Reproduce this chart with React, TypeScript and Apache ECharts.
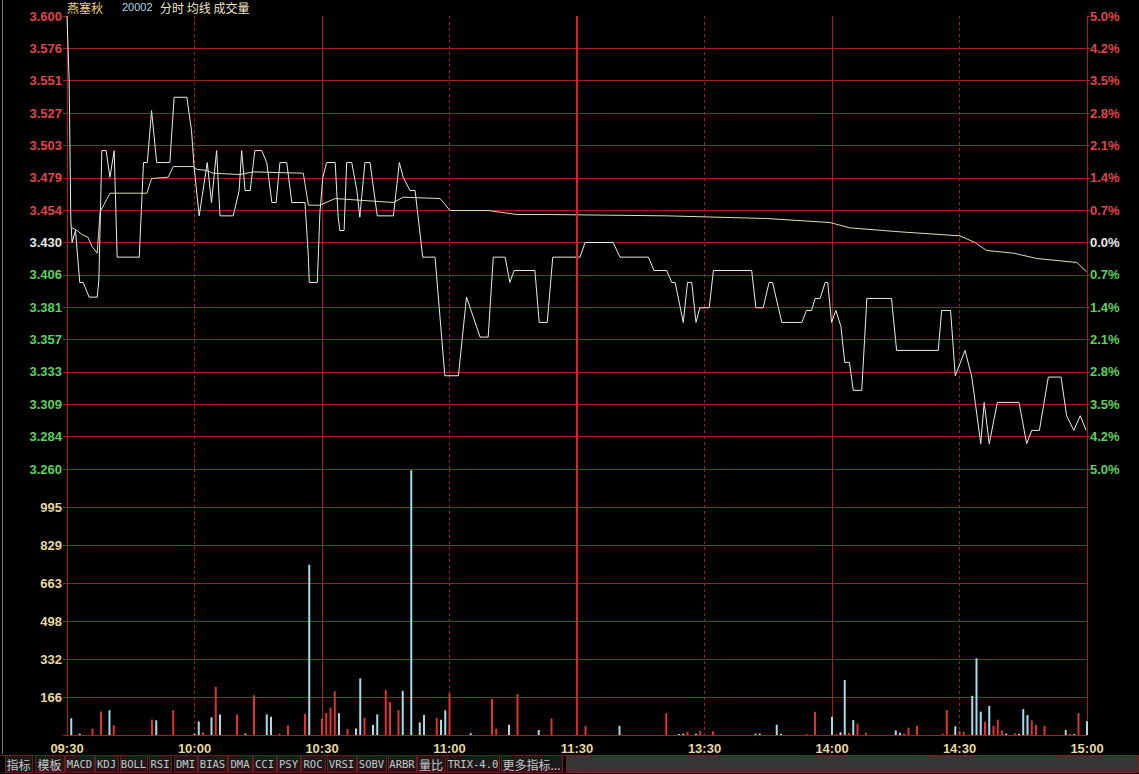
import React, { useEffect, useRef } from 'react';
import * as echarts from 'echarts';

// ---------- text ----------
const stockName = '燕塞秋';
const stockCode = '20002';
const headerLabel = '分时 均线 成交量';

// tick labels (bottom to top)
const priceTicks = ['3.260', '3.284', '3.309', '3.333', '3.357', '3.381', '3.406', '3.430', '3.454', '3.479', '3.503', '3.527', '3.551', '3.576', '3.600'];
const pctTicks = ['5.0%', '4.2%', '3.5%', '2.8%', '2.1%', '1.4%', '0.7%', '0.0%', '0.7%', '1.4%', '2.1%', '2.8%', '3.5%', '4.2%', '5.0%'];
const volTicks = ['', '166', '332', '498', '663', '829', '995', ''];
const timeLabels = ['09:30', '10:00', '10:30', '11:00', '11:30', '13:30', '14:00', '14:30', '15:00'];
const tabLabels = ['指标', '模板', 'MACD', 'KDJ', 'BOLL', 'RSI', 'DMI', 'BIAS', 'DMA', 'CCI', 'PSY', 'ROC', 'VRSI', 'SOBV', 'ARBR', '量比', 'TRIX-4.0', '更多指标...'];

const priceMin = 3.26;
const priceMax = 3.6;
const volMax = 1161;

// ---------- price line (minute from 09:30, price) ----------
const priceMinutes = [0, 0.5, 0.9, 1.2, 2, 3, 3.8, 5.2, 7.1, 7.5, 8.2, 9.2, 10.1, 11.1, 11.8, 17, 18, 18.9, 19.9, 21.1, 24.2, 25.2, 28.2, 29.3, 29.9, 31.1, 33, 34, 35.2, 36, 39.1, 40.5, 41.1, 41.9, 43.1, 44.2, 45.8, 47, 48.2, 49.2, 50.1, 51.7, 52.9, 56, 56.8, 57, 58.9, 59.5, 60.2, 61.1, 63.1, 63.8, 64.2, 65.2, 65.8, 67, 68.2, 68.9, 70.1, 71.3, 73, 76.8, 78.2, 79.1, 80.7, 81.9, 83.7, 86.6, 88.9, 92.1, 94, 97.2, 99.1, 100.3, 103.1, 104.2, 105.2, 110.1, 111.1, 113, 114.3, 120.7, 121.9, 128.5, 130.1, 136.8, 138.1, 141.1, 142.3, 143.1, 145, 146, 147, 148, 148.9, 151.1, 152.1, 161.1, 162.1, 163.8, 165.2, 166, 168.2, 172.9, 174, 175.2, 176, 177.2, 178.4, 179, 179.9, 180.9, 182.1, 183, 184.1, 185, 187, 188.2, 194, 195.2, 205, 205.8, 207.9, 209, 211.3, 212.9, 215, 215.8, 217, 218.9, 224, 225.8, 227, 228.8, 230.9, 233.9, 235.2, 236.9, 238.4, 239.8];
const priceValues = [3.600, 3.552, 3.447, 3.430, 3.439, 3.400, 3.400, 3.389, 3.389, 3.402, 3.499, 3.499, 3.479, 3.499, 3.419, 3.419, 3.490, 3.490, 3.529, 3.490, 3.490, 3.539, 3.539, 3.514, 3.487, 3.450, 3.490, 3.460, 3.499, 3.450, 3.450, 3.469, 3.499, 3.469, 3.469, 3.499, 3.499, 3.490, 3.460, 3.460, 3.490, 3.490, 3.460, 3.460, 3.419, 3.400, 3.400, 3.452, 3.479, 3.490, 3.490, 3.449, 3.439, 3.439, 3.490, 3.490, 3.469, 3.449, 3.490, 3.490, 3.450, 3.450, 3.490, 3.479, 3.469, 3.469, 3.419, 3.419, 3.330, 3.330, 3.389, 3.359, 3.359, 3.419, 3.419, 3.400, 3.409, 3.409, 3.370, 3.370, 3.419, 3.419, 3.430, 3.430, 3.419, 3.419, 3.409, 3.409, 3.400, 3.400, 3.370, 3.400, 3.400, 3.370, 3.381, 3.381, 3.409, 3.409, 3.381, 3.381, 3.400, 3.400, 3.370, 3.370, 3.379, 3.379, 3.388, 3.388, 3.400, 3.400, 3.370, 3.379, 3.367, 3.340, 3.340, 3.319, 3.319, 3.388, 3.388, 3.349, 3.349, 3.379, 3.379, 3.330, 3.349, 3.329, 3.279, 3.310, 3.279, 3.310, 3.310, 3.279, 3.289, 3.289, 3.329, 3.329, 3.300, 3.289, 3.300, 3.289];

// ---------- average line ----------
const avgMinutes = [1.2, 2.4, 3.5, 4.9, 5.9, 7.1, 7.8, 9.3, 10.1, 18.8, 19.9, 23.8, 25, 29.7, 30.5, 32.9, 34.4, 40.7, 43.8, 55.6, 56.8, 59.5, 63.1, 76.8, 79.1, 87.8, 90.1, 99.1, 105.8, 113.6, 141.1, 164.6, 179.5, 184.2, 196, 210.1, 213.6, 216.4, 222.7, 228.2, 237.6, 239.9];
const avgValues = [3.441, 3.439, 3.436, 3.434, 3.427, 3.422, 3.453, 3.462, 3.467, 3.467, 3.478, 3.479, 3.487, 3.487, 3.485, 3.484, 3.482, 3.481, 3.483, 3.482, 3.458, 3.458, 3.463, 3.460, 3.464, 3.463, 3.454, 3.454, 3.451, 3.451, 3.450, 3.448, 3.445, 3.441, 3.438, 3.435, 3.430, 3.424, 3.422, 3.418, 3.415, 3.408];

// ---------- volume ----------
const volMinutes = [1, 3, 6, 8, 10, 11, 20, 21, 25, 30, 31, 32, 34, 35, 36, 40, 42, 44, 47, 48, 50, 52, 56, 57, 60, 61, 62, 63, 64, 66, 68, 69, 70, 72, 73, 75, 76, 78, 79, 81, 83, 84, 87, 88, 89, 90, 95, 100, 101, 104, 106, 111, 114, 122, 130, 141, 144, 145, 146, 148, 149, 152, 162, 163, 167, 168, 174, 176, 180, 181, 182, 183, 184, 185, 186, 188, 195, 196, 197, 198, 200, 206, 207, 209, 210, 211, 213, 214, 215, 216, 217, 218, 219, 220, 221, 223, 224, 225, 226, 227, 228, 230, 235, 236, 237, 238, 240];
const volValues = [73, 6, 28, 103, 108, 42, 68, 64, 108, 5, 59, 12, 77, 210, 90, 90, 6, 173, 90, 80, 6, 42, 92, 743, 72, 96, 120, 191, 95, 26, 28, 247, 75, 44, 90, 197, 143, 109, 193, 1155, 55, 87, 75, 67, 108, 182, 8, 157, 28, 45, 179, 22, 72, 40, 40, 95, 4, 6, 14, 6, 18, 16, 6, 6, 45, 6, 4, 102, 80, 5, 12, 240, 10, 65, 50, 10, 20, 10, 6, 32, 40, 6, 109, 38, 18, 14, 171, 335, 102, 58, 127, 40, 67, 20, 6, 8, 5, 113, 87, 64, 44, 40, 22, 4, 4, 95, 60];
// 1 = price up (red), 0 = price down (cyan)
const volUp = [0, 0, 1, 1, 0, 1, 1, 0, 1, 0, 0, 1, 0, 1, 0, 1, 0, 1, 0, 0, 1, 1, 1, 0, 1, 1, 1, 1, 0, 1, 0, 0, 1, 0, 0, 1, 1, 1, 0, 0, 0, 0, 1, 0, 0, 1, 0, 1, 1, 0, 1, 0, 1, 1, 0, 1, 0, 0, 1, 0, 1, 1, 0, 0, 0, 0, 1, 1, 0, 1, 0, 0, 1, 0, 1, 1, 0, 0, 1, 1, 1, 1, 1, 0, 1, 1, 0, 0, 0, 1, 0, 1, 1, 1, 0, 1, 0, 0, 0, 1, 1, 1, 0, 1, 0, 1, 0];

// ---------- styles / layout ----------
const RED_GRID = '#a81c1c';
const RED_TXT = '#e04646';
const GREEN_TXT = '#5cd25c';
const WHITE_TXT = '#e8e8e8';
const YELLOW_TXT = '#e8d898';
const BAR_RED = '#e03232';
const BAR_CYAN = '#a6dcea';
const tabPos = [[5, 32], [35, 64], [65, 94], [95, 118], [120, 147], [149, 171], [174, 197], [198, 227], [228, 252], [253, 276], [277, 300], [301, 325], [327, 356], [357, 386], [388, 416], [417, 445], [447, 499], [501, 562]];

const isCjk = (s: string) => /[\u4e00-\u9fff]/.test(s);

export default function App() {
  const ref = useRef<HTMLDivElement>(null);

  useEffect(() => {
    if (!ref.current) return;
    const chart = echarts.init(ref.current, undefined, { renderer: 'svg' });

    const tickColor = (i: number) => (i < 7 ? GREEN_TXT : i === 7 ? WHITE_TXT : RED_TXT);
    const labelFont = { fontFamily: 'Liberation Sans, Arial, sans-serif', fontWeight: 'bold' as const, fontSize: 13 };

    const tabGraphics: any[] = [
      {
        type: 'rect',
        shape: { x: 566.5, y: 755.5, width: 572, height: 17 },
        style: { fill: '#363636', stroke: '#7a2020', lineWidth: 1 },
        silent: true,
      },
      {
        type: 'line',
        shape: { x1: 0, y1: 755.5, x2: 1139, y2: 755.5 },
        style: { stroke: '#7a2020', lineWidth: 1 },
        silent: true,
      },
    ];
    tabLabels.forEach((t, i) => {
      const [x0, x1] = tabPos[i];
      tabGraphics.push({
        type: 'rect',
        shape: { x: x0 + 0.5, y: 755.5, width: x1 - x0, height: 17 },
        style: { fill: '#1e1a1a', stroke: '#6e1a1a', lineWidth: 1 },
        silent: true,
      });
      tabGraphics.push({
        type: 'text',
        x: (x0 + x1) / 2,
        y: 764,
        style: {
          text: t,
          fill: '#c8c8c8',
          align: 'center',
          verticalAlign: 'middle',
          font: isCjk(t) ? '12px "Noto Sans CJK SC"' : '10.5px "DejaVu Sans Mono", monospace',
        },
        silent: true,
      });
    });

    const option: any = {
      animation: false,
      backgroundColor: '#000000',
      grid: [
        { left: 67, top: 16, width: 1020, height: 453 },
        { left: 67, top: 469, width: 1020, height: 266 },
      ],
      xAxis: [
        {
          gridIndex: 0, type: 'value', min: 0, max: 240, interval: 60,
          axisLine: { show: false }, axisTick: { show: false }, axisLabel: { show: false },
          splitLine: { show: true, lineStyle: { color: RED_GRID, width: 1, type: 'solid' } },
        },
        {
          gridIndex: 0, type: 'value', min: 0, max: 240, interval: 30,
          axisLine: { show: false }, axisTick: { show: false }, axisLabel: { show: false },
          splitLine: { show: true, lineStyle: { color: RED_GRID, width: 1, type: [3, 3] } },
        },
        {
          gridIndex: 1, type: 'value', min: 0, max: 240, interval: 60,
          axisLine: { show: false }, axisTick: { show: false }, axisLabel: { show: false },
          splitLine: { show: true, lineStyle: { color: RED_GRID, width: 1, type: 'solid' } },
        },
        {
          gridIndex: 1, type: 'value', min: 0, max: 240, interval: 30, position: 'bottom',
          axisLine: { show: true, lineStyle: { color: RED_GRID, width: 1 } },
          axisTick: { show: false },
          axisLabel: {
            show: true, margin: 7, color: YELLOW_TXT, ...labelFont,
            showMinLabel: true, showMaxLabel: true,
            formatter: (v: number) => timeLabels[Math.round(v / 30)] ?? '',
          },
          splitLine: { show: true, lineStyle: { color: RED_GRID, width: 1, type: [3, 3] } },
        },
      ],
      yAxis: [
        { gridIndex: 0, type: 'value', min: priceMin, max: priceMax, show: false },
        {
          gridIndex: 0, type: 'value', min: 0, max: 14, interval: 1, position: 'left',
          axisLine: { show: true, lineStyle: { color: RED_GRID } },
          axisTick: { show: true, length: 4, lineStyle: { color: RED_GRID } },
          axisLabel: {
            show: true, margin: 5, ...labelFont, showMinLabel: true, showMaxLabel: true,
            formatter: (v: number) => priceTicks[Math.round(v)] ?? '',
            color: (v: any) => tickColor(Math.round(Number(v))),
          },
          splitLine: { show: true, showMaxLine: false, lineStyle: { color: RED_GRID, width: 1 } },
        },
        {
          gridIndex: 0, type: 'value', min: 0, max: 14, interval: 1, position: 'right',
          axisLine: { show: true, lineStyle: { color: RED_GRID } },
          axisTick: { show: true, length: 3, lineStyle: { color: RED_GRID } },
          axisLabel: {
            show: true, margin: 3, ...labelFont, showMinLabel: true, showMaxLabel: true,
            formatter: (v: number) => pctTicks[Math.round(v)] ?? '',
            color: (v: any) => tickColor(Math.round(Number(v))),
          },
          splitLine: { show: false },
        },
        { gridIndex: 1, type: 'value', min: 0, max: volMax, show: false },
        {
          gridIndex: 1, type: 'value', min: 0, max: 7, interval: 1, position: 'left',
          axisLine: { show: true, lineStyle: { color: RED_GRID } },
          axisTick: { show: true, length: 4, lineStyle: { color: RED_GRID } },
          axisLabel: {
            show: true, margin: 5, ...labelFont, color: YELLOW_TXT,
            formatter: (v: number) => volTicks[Math.round(v)] ?? '',
          },
          splitLine: { show: true, lineStyle: { color: RED_GRID, width: 1 } },
        },
        {
          gridIndex: 1, type: 'value', min: 0, max: 7, interval: 1, position: 'right',
          axisLine: { show: true, lineStyle: { color: RED_GRID } },
          axisTick: { show: false }, axisLabel: { show: false }, splitLine: { show: false },
        },
      ],
      series: [
        {
          type: 'line', xAxisIndex: 0, yAxisIndex: 0, symbol: 'none',
          data: avgMinutes.map((m, i) => [m, avgValues[i]]),
          lineStyle: { color: '#e6dcae', width: 1 },
          z: 3,
        },
        {
          type: 'line', xAxisIndex: 0, yAxisIndex: 0, symbol: 'none',
          data: priceMinutes.map((m, i) => [m, priceValues[i]]),
          lineStyle: { color: '#ececec', width: 1 },
          z: 4,
          markLine: {
            silent: true, symbol: 'none', label: { show: false },
            lineStyle: { color: '#d82424', width: 2, type: 'solid' },
            data: [{ xAxis: 120 }],
          },
        },
        {
          type: 'bar', xAxisIndex: 2, yAxisIndex: 3, barWidth: 2,
          data: volMinutes.map((m, i) => ({
            value: [m, volValues[i]],
            itemStyle: { color: volUp[i] ? BAR_RED : BAR_CYAN },
          })),
          z: 3,
          markLine: {
            silent: true, symbol: 'none', label: { show: false },
            lineStyle: { color: '#d82424', width: 2, type: 'solid' },
            data: [{ xAxis: 120 }],
          },
        },
      ],
      graphic: [
        {
          type: 'line', shape: { x1: 2.5, y1: 0, x2: 2.5, y2: 754 },
          style: { stroke: '#7a7a7a', lineWidth: 1 }, silent: true,
        },
        {
          type: 'text', x: 67, y: 7,
          style: { text: stockName, fill: '#e8d070', font: '12px "Noto Sans CJK SC"', verticalAlign: 'middle' },
          silent: true,
        },
        {
          type: 'text', x: 122, y: 7,
          style: { text: stockCode, fill: '#a8dcea', font: '11px "Liberation Sans", Arial', verticalAlign: 'middle' },
          silent: true,
        },
        {
          type: 'text', x: 160, y: 7,
          style: { text: headerLabel, fill: '#f0e8c8', font: '12px "Noto Sans CJK SC"', verticalAlign: 'middle' },
          silent: true,
        },
        ...tabGraphics,
      ],
    };

    chart.setOption(option);
    return () => chart.dispose();
  }, []);

  return (
    <div
      ref={ref}
      style={{ position: 'fixed', left: 0, top: 0, width: 1139, height: 774, background: '#000' }}
    />
  );
}
